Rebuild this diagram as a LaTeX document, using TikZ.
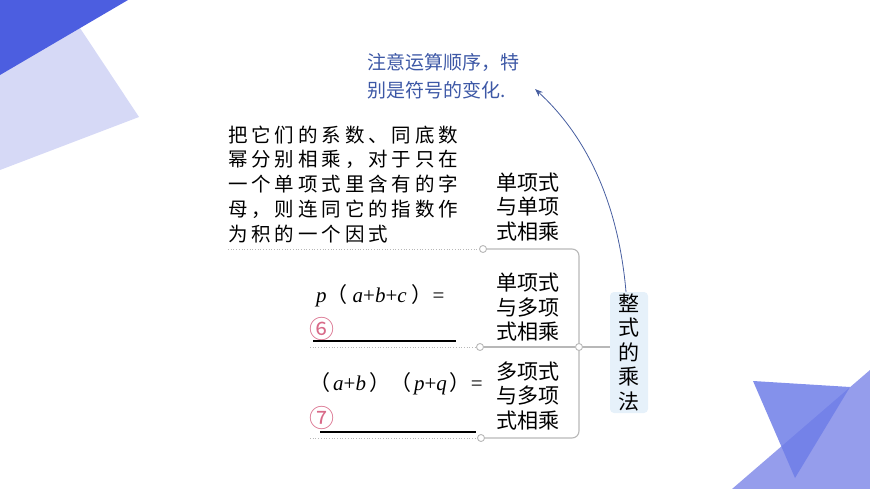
\documentclass[tikz,border=0pt]{standalone}
\usepackage{fontspec}
\newfontfamily\cjk{Noto Sans CJK SC}
\newfontfamily\cjkwide[LetterSpace=20]{Noto Sans CJK SC}
\newfontfamily\tms{Liberation Serif}
\newcommand\mvar[1]{{\tms\itshape #1}}
\newcommand\mop[1]{{\tms #1}}
\usetikzlibrary{arrows.meta}
\definecolor{dblue}{HTML}{4C5EE0}
\definecolor{lblue}{HTML}{D6D9F6}
\definecolor{mblue}{HTML}{959DEC}
\definecolor{tblue}{HTML}{6F7EE8}
\definecolor{noteblue}{HTML}{3D58A6}
\definecolor{boxblue}{HTML}{E6F1FA}
\definecolor{lgray}{HTML}{B8B8B8}
\definecolor{numpink}{HTML}{D86A88}

\tikzset{
    dot/.style={circle,draw=lgray,fill=white,line width=0.9pt,inner sep=0pt,minimum size=7pt},
    branch/.style={draw=lgray,line width=1.1pt,rounded corners=7pt},
    guide/.style={draw=lgray,dotted,line width=0.7pt},
    blank/.style={draw=black,line width=1.2pt},
    ruletxt/.style={anchor=west,inner sep=0pt,font=\cjkwide\fontsize{19.5}{25}\selectfont},
    kindtxt/.style={anchor=west,inner sep=0pt,align=left,font=\cjk\fontsize{21}{24.5}\selectfont},
    formtxt/.style={anchor=west,inner sep=0pt,font=\cjk\fontsize{21}{24}\selectfont},
    numtxt/.style={inner sep=0pt,text=numpink,font=\cjk\fontsize{25}{28}\selectfont},
    notetxt/.style={anchor=west,inner sep=0pt,text=noteblue,font=\cjk\fontsize{19}{24}\selectfont},
    mainbox/.style={fill=boxblue,rounded corners=4pt,minimum width=38pt,minimum height=121pt,
        inner sep=0pt,align=center,font=\cjk\fontsize{21}{24.5}\selectfont},
    notearrow/.style={draw=noteblue!85!gray,line width=0.8pt,-{Stealth[length=8pt,width=6pt]}}
}

\begin{document}
\begin{tikzpicture}[x=1pt,y=-1pt]
\useasboundingbox (0,0) rectangle (870,489);
\fill[lblue] (0,60) -- (80,28) -- (139,117) -- (0,170) -- cycle;
\fill[dblue] (0,0) -- (128,0) -- (0,75) -- cycle;
\fill[mblue] (732,489) -- (870,370) -- (870,489) -- cycle;
\fill[tblue,opacity=0.85] (753,381) -- (850,387) -- (795,478) -- cycle;

\foreach \t [count=\i] in {把它们的系数、同底数,幂分别相乘，对于只在,一个单项式里含有的字,母，则连同它的指数作,为积的一个因式} {
    \node[ruletxt] (rule\i) at (228,110+24.8*\i) {\t};
}
\node[kindtxt] (k1) at (496,207) {单项式\\与单项\\式相乘};
\node[kindtxt] (k2) at (496,307.5) {单项式\\与多项\\式相乘};
\node[kindtxt] (k3) at (496,396) {多项式\\与多项\\式相乘};

\node[formtxt] (f1) at (316,296) {\mvar{p}（\hspace{5pt}\mvar{a}\mop{+}\mvar{b}\mop{+}\mvar{c}\hspace{5pt}）\mop{=}};
\node[formtxt] (f2) at (309,384) {（\hspace{3pt}\mvar{a}\mop{+}\mvar{b}\hspace{3pt}）（\hspace{3pt}\mvar{p}\mop{+}\mvar{q}\hspace{3pt}）\mop{=}};
\node[numtxt] (n6) at (322,329) {⑥};
\node[numtxt] (n7) at (322,418) {⑦};
\draw[blank] (313,341) -- (456,341);
\draw[blank] (320,432) -- (476,432);

\node[dot] (c1) at (483,249) {};
\node[dot] (c2) at (480,347) {};
\node[dot] (c3) at (481,438) {};
\node[dot] (jm) at (579,347) {};
\coordinate (g1) at (228,249);
\coordinate (g2) at (310,347);
\coordinate (g3) at (310,438);
\draw[guide] (g1) -- (c1);
\draw[guide] (g2) -- (c2);
\draw[guide] (g3) -- (c3);

\node[mainbox] (main) at (629,352.5) {整\\式\\的\\乘\\法};
\draw[branch] (c1) -| (jm);
\draw[branch] (c3) -| (jm);
\draw[branch] (c2) -- (jm);
\draw[branch] (jm) -- (jm -| main.west);

\node[notetxt] (note1) at (367,62) {注意运算顺序，特};
\node[notetxt] (note2) at (367,90) {别是符号的变化.};
\coordinate (tip) at (535,89);
\draw[notearrow] ([xshift=-3pt]main.north) .. controls (618,200) and (585,135) .. (tip);
\end{tikzpicture}
\end{document}
